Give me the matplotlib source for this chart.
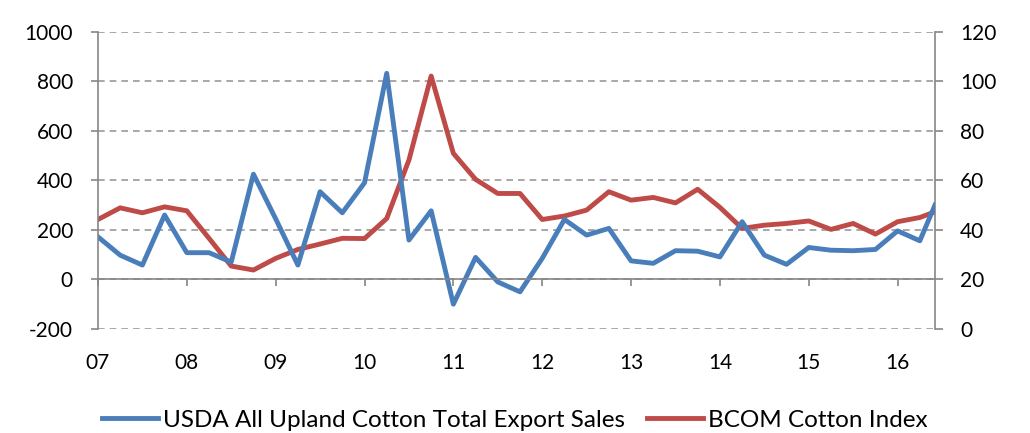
import matplotlib
matplotlib.use("Agg")
import matplotlib.pyplot as plt

plt.rcParams['font.family'] = ['Lato', 'DejaVu Sans']
plt.rcParams['axes.unicode_minus'] = False

# Quarterly observations (fractional years)
dates = [2007.0 + 0.25 * i for i in range(38)] + [2016.42]

export_sales = [172, 98, 58, 260, 108, 108, 70, 425, 245, 58, 354, 269, 390, 832,
                159, 277, -100, 89, -10, -50, 85, 242, 179, 206, 75, 65, 116, 114,
                91, 233, 98, 61, 129, 118, 116, 121, 196, 156, 300]

cotton_index = [44.2, 48.9, 46.9, 49.3, 47.7, 36.6, 25.4, 23.8, 28.5, 32.1, 34.3, 36.6,
                36.5, 44.6, 68.2, 102.1, 70.9, 60.4, 54.7, 54.7, 44.2, 45.6, 48.0, 55.4,
                52.0, 53.1, 50.9, 56.4, 49.1, 40.6, 41.9, 42.6, 43.6, 40.2, 42.6, 38.3,
                43.3, 45.0, 47.3]

year_ticks = list(range(2007, 2017))
year_labels = ['07', '08', '09', '10', '11', '12', '13', '14', '15', '16']
left_ticks = [-200, 0, 200, 400, 600, 800, 1000]
right_ticks = [0, 20, 40, 60, 80, 100, 120]

blue = '#4A7EBB'
red = '#BE4B48'
axis_grey = '#868686'
grid_grey = '#9a9a9a'
fs = 15
legend_fs = 17.5

fig = plt.figure(figsize=(10.3, 4.33), dpi=100)
ax = fig.add_axes([0.0951, 0.2402, 0.8126, 0.6866])
ax2 = ax.twinx()

# Secondary axis sits underneath and carries the dashed grid
ax.set_zorder(ax2.get_zorder() + 1)
ax.patch.set_visible(False)

ax2.set_ylim(0, 120)
ax2.set_yticks(right_ticks)
ax2.yaxis.grid(True, linestyle=(0, (4, 3)), color=grid_grey, linewidth=1.2)
ax2.plot(dates, cotton_index, color=red, linewidth=3.5, solid_joinstyle='round',
         label='BCOM Cotton Index')

ax.plot(dates, export_sales, color=blue, linewidth=3.5, solid_joinstyle='round',
        label='USDA All Upland Cotton Total Export Sales')
ax.set_ylim(-200, 1000)
ax.set_yticks(left_ticks)
ax.set_xlim(2007.0, 2016.42)
ax.set_xticks(year_ticks)
ax.set_xticklabels(year_labels)

for a in (ax, ax2):
    a.spines['top'].set_visible(False)
    for s in a.spines.values():
        s.set_color(axis_grey)
        s.set_linewidth(1.2)

ax.spines['right'].set_visible(False)
ax2.spines['left'].set_visible(False)
ax2.spines['bottom'].set_visible(False)
ax.spines['bottom'].set_position(('data', 0))

ax.tick_params(axis='x', direction='out', length=5, width=1.2, color=axis_grey,
               pad=48, labelsize=fs, labelcolor='black')
ax.tick_params(axis='y', direction='out', length=5, width=1.2, color=axis_grey,
               labelsize=fs, pad=13)
ax2.tick_params(axis='y', direction='out', length=6, width=1.2, color=axis_grey,
                labelsize=fs, pad=12)

h1, l1 = ax.get_legend_handles_labels()
h2, l2 = ax2.get_legend_handles_labels()
fig.legend(h1 + h2, l1 + l2, loc='center', bbox_to_anchor=(0.5, 0.03), ncol=2,
           frameon=False, fontsize=legend_fs, handlelength=2.3, handletextpad=0.2,
           columnspacing=0.9)

fig.savefig('out.png', dpi=100)
